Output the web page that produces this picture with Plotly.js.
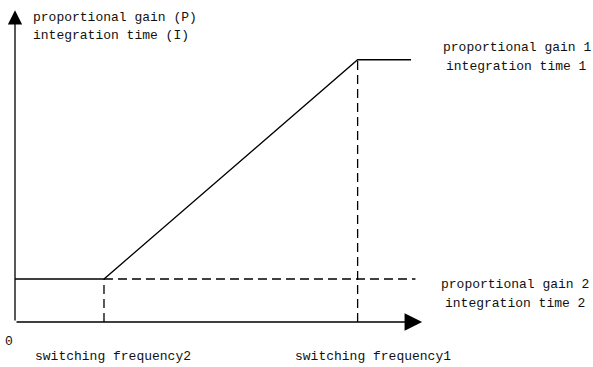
<!DOCTYPE html>
<html>
<head>
<meta charset="utf-8">
<script src="https://cdn.plot.ly/plotly-3.0.1.min.js"></script>
<style>
  body { margin: 0; background: #fff; }
  #myPlot { width: 593px; height: 367px; }
</style>
</head>
<body>
<div id="myPlot"></div>
<script>
// schematic values (arbitrary units)
var freqBreaks = [0, 2, 7.7, 8.9]      // start, switching frequency2, switching frequency1, end
var gainLevels = [1, 1, 6.1, 6.1]      // gain 2 held, then ramp up to gain 1
var dashEnd = 9.0                      // dashed gain 2 line runs on to here
var axisTipX = 9.15
var axisTipY = 7.25

var leftLabel = ["proportional gain (P)", "integration time (I)"]
var gain1Label = ["proportional gain 1", "integration time 1"]
var gain2Label = ["proportional gain 2", "integration time 2"]
var freqLabels = ["switching frequency2", "switching frequency1"]
var originLabel = "0"

var f2 = freqBreaks[1]
var f1 = freqBreaks[2]
var g2 = gainLevels[0]
var g1 = gainLevels[2]

var font = {family: "Liberation Mono, DejaVu Sans Mono, monospace", size: 13, color: "#111"}
var solid = {color: "#000", width: 1.3}
var dashed = {color: "#000", width: 1.3, dash: "9px,5px"}

var data = [
  {x: freqBreaks, y: gainLevels, mode: "lines", line: solid},
  {x: [f2, dashEnd], y: [g2, g2], mode: "lines", line: dashed},
  {x: [f2, f2], y: [0, g2], mode: "lines", line: dashed},
  {x: [f1, f1], y: [0, g1], mode: "lines", line: dashed}
]

var annotations = []

// axes drawn as arrows from the origin
annotations.push({x: axisTipX, y: 0, ax: 0, ay: 0, axref: "x", ayref: "y",
  text: "", showarrow: true, arrowhead: 2, arrowsize: 2.7, arrowwidth: 1.3, arrowcolor: "#000"})
annotations.push({x: 0, y: axisTipY, ax: 0, ay: 0, axref: "x", ayref: "y",
  text: "", showarrow: true, arrowhead: 2, arrowsize: 2.2, arrowwidth: 1.3, arrowcolor: "#000"})

var addLines = function(lines, x, y, xanchor, shifts, xshift){
  for (let i = 0; i < lines.length; i++) {
    annotations.push({x: x, y: y, text: lines[i], showarrow: false, font: font,
      xanchor: xanchor, yanchor: "middle", xshift: xshift || 0, yshift: shifts[i]})
  }
}

addLines(leftLabel, 0.36, axisTipY, "left", [-7, -25])
addLines(gain1Label, 11.28, g1, "center", [12, -7])
addLines(gain2Label, 11.24, g2, "center", [-5, -24])
addLines([freqLabels[0]], f2, 0, "center", [-34], 9)
addLines([freqLabels[1]], f1, 0, "center", [-34], 15)
addLines([originLabel], 0, 0, "center", [-19], -6)

var layout = {
  width: 593,
  height: 367,
  margin: {l: 15, r: 0, t: 0, b: 45},
  showlegend: false,
  paper_bgcolor: "#fff",
  plot_bgcolor: "#fff",
  xaxis: {range: [0, 12.99], visible: false, fixedrange: true},
  yaxis: {range: [0, 7.49], visible: false, fixedrange: true},
  annotations: annotations
}

Plotly.newPlot("myPlot", data, layout, {staticPlot: true})
</script>
</body>
</html>
